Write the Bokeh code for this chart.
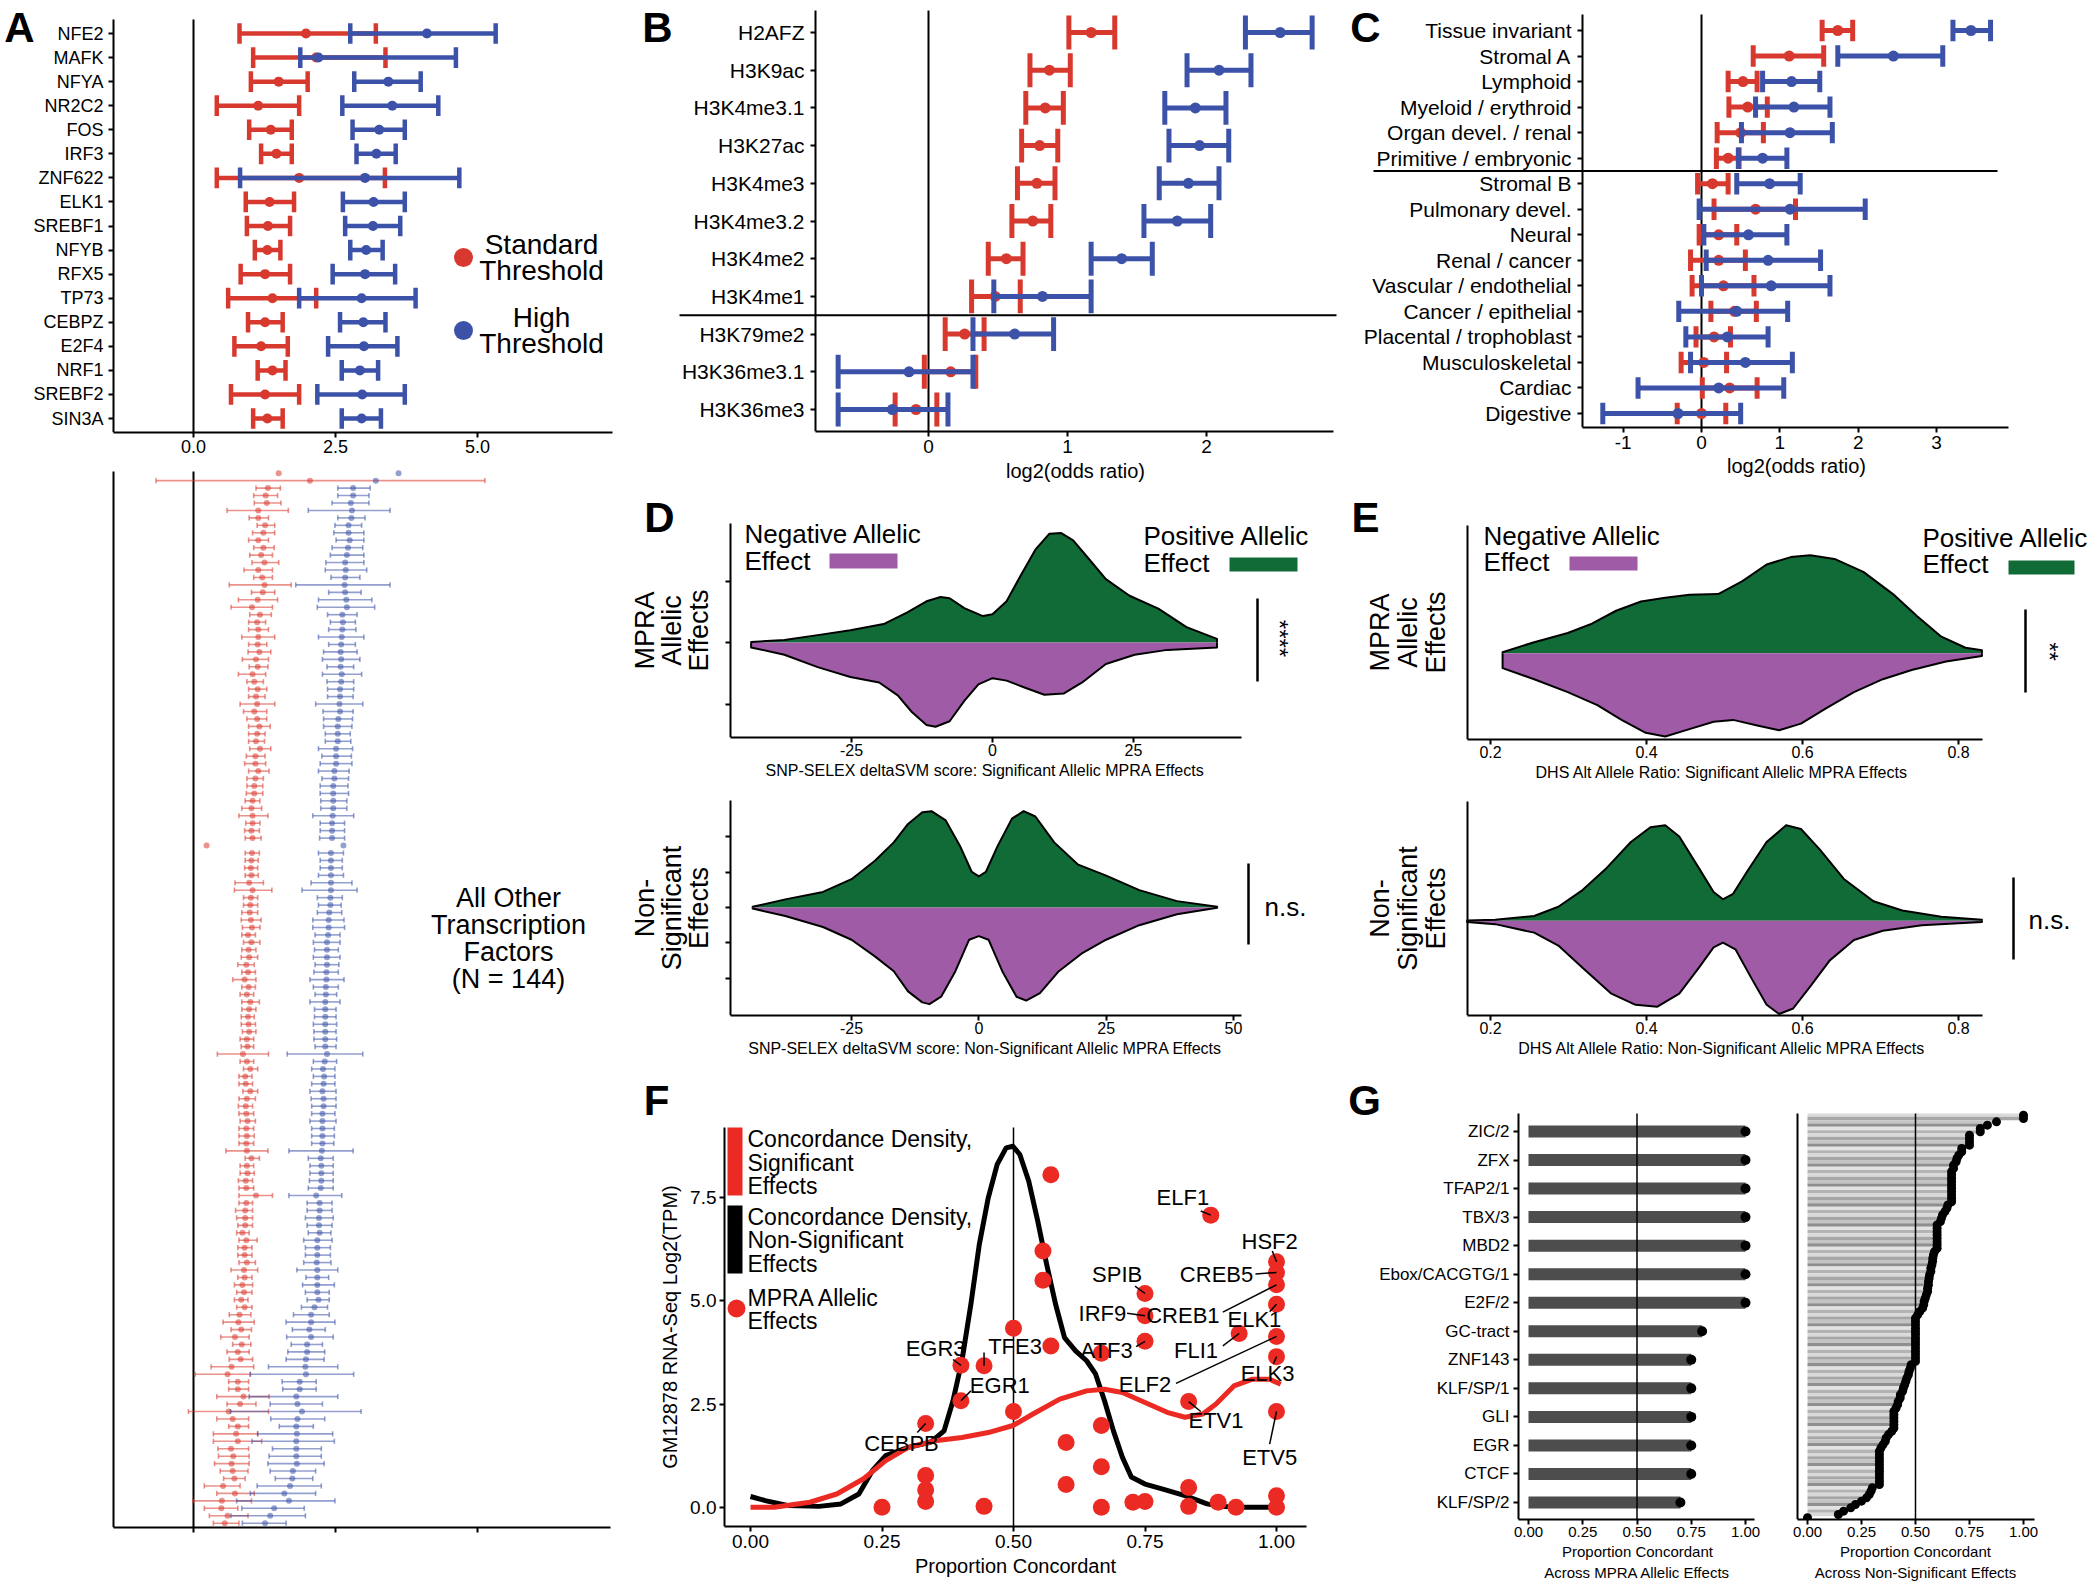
import math
import numpy as np
from bokeh.plotting import figure
from bokeh.layouts import row, column
from bokeh.models import FixedTicker, Label, NumeralTickFormatter, Range1d, LinearAxis
from bokeh.embed import file_html
from bokeh.resources import INLINE
from bokeh.core.properties import value

nan = float("nan")
FONT = "Liberation Sans"
RED = "#D8392E"
BLUE = "#3B52A8"
GREEN = "#116B36"
PURPLE = "#A05BA6"
FRED = "#EC2A24"

# ---------------- Panel A (top) ----------------
A_TFS = ["NFE2", "MAFK", "NFYA", "NR2C2", "FOS", "IRF3", "ZNF622", "ELK1", "SREBF1",
         "NFYB", "RFX5", "TP73", "CEBPZ", "E2F4", "NRF1", "SREBF2", "SIN3A"]
A_STD = [1.98, 2.16, 1.50, 1.14, 1.36, 1.46, 1.86, 1.34, 1.31, 1.30, 1.26, 1.39, 1.26, 1.19, 1.39, 1.26, 1.30]
A_STD_LO = [0.81, 1.05, 1.01, 0.41, 0.98, 1.19, 0.41, 0.92, 0.94, 1.08, 0.83, 0.61, 0.96, 0.72, 1.13, 0.66, 1.05]
A_STD_HI = [3.21, 3.38, 2.01, 1.86, 1.73, 1.73, 3.37, 1.77, 1.70, 1.53, 1.70, 2.16, 1.57, 1.66, 1.62, 1.86, 1.57]
A_HIGH = [4.11, 2.20, 3.43, 3.50, 3.27, 3.22, 3.02, 3.17, 3.16, 3.04, 3.02, 2.96, 2.99, 3.00, 2.93, 2.97, 2.96]
A_HIGH_LO = [2.76, 1.88, 2.83, 2.62, 2.80, 2.87, 0.82, 2.63, 2.67, 2.76, 2.45, 1.86, 2.58, 2.37, 2.61, 2.18, 2.61]
A_HIGH_HI = [5.32, 4.62, 4.00, 4.31, 3.72, 3.56, 4.68, 3.72, 3.64, 3.33, 3.55, 3.91, 3.38, 3.59, 3.25, 3.72, 3.30]
A_XTICKS = [0.0, 2.5, 5.0]

# ---------------- Panel A (bottom): all other TFs, top to bottom ----------------
AO_STD = [1.50, 2.05, 1.31, 1.27, 1.29, 1.14, 1.14, 1.26, 1.23, 1.14, 1.23, 1.19, 1.25, 1.14, 1.21, 1.25, 1.22, 1.13, 1.03, 1.17,
          1.12, 1.14, 1.14, 1.13, 1.16, 1.10, 1.13, 1.04, 1.07, 1.13, 1.10, 1.12, 1.07, 1.12, 1.16, 1.12, 1.10, 1.17, 1.09, 1.09,
          1.14, 1.09, 1.07, 1.07, 1.04, 1.02, 1.04, 1.04, 1.02, 1.04, 0.23, 1.03, 1.02, 1.01, 1.02, 0.98, 1.04, 1.01, 1.00, 0.99,
          1.01, 1.03, 0.96, 1.02, 0.97, 0.98, 0.93, 0.96, 0.90, 0.97, 0.94, 1.00, 0.98, 0.96, 0.97, 0.98, 0.94, 0.95, 0.87, 0.94,
          1.00, 0.91, 0.92, 1.00, 0.94, 0.92, 0.93, 0.95, 0.93, 0.94, 0.93, 0.94, 1.02, 0.94, 0.95, 0.92, 0.93, 1.10, 0.93, 0.91,
          0.91, 0.91, 0.86, 0.93, 0.90, 0.90, 0.94, 0.89, 0.90, 0.86, 0.89, 0.84, 0.90, 0.81, 0.79, 0.84, 0.73, 0.85, 0.78, 0.83,
          0.67, 0.60, 0.78, 0.78, 0.88, 0.82, 0.62, 0.69, 0.78, 0.75, 0.78, 0.66, 0.70, 0.67, 0.69, 0.72, 0.52, 0.73, 0.50, 0.49,
          0.60, 0.55]
AO_STD_LO = [nan, -0.66, 1.10, 1.06, 1.07, 0.59, 0.98, 1.12, 1.04, 0.97, 1.06, 0.99, 1.03, 0.89, 1.06, 0.63, 1.02, 0.79, 0.66, 0.99,
             0.97, 0.97, 0.85, 0.97, 0.96, 0.86, 0.98, 0.79, 0.94, 0.97, 0.97, 0.82, 0.88, 0.94, 0.97, 0.97, 0.97, 0.99, 0.93, 0.90,
             0.97, 0.94, 0.94, 0.93, 0.91, 0.85, 0.80, 0.92, 0.90, 0.91, nan, 0.91, 0.91, 0.90, 0.91, 0.73, 0.72, 0.88, 0.88, 0.85,
             0.84, 0.86, 0.85, 0.88, 0.85, 0.84, 0.78, 0.85, 0.69, 0.85, 0.82, 0.85, 0.85, 0.84, 0.84, 0.86, 0.82, 0.84, 0.42, 0.82,
             0.88, 0.80, 0.80, 0.87, 0.80, 0.79, 0.80, 0.82, 0.80, 0.80, 0.80, 0.57, 0.91, 0.82, 0.82, 0.79, 0.80, 0.80, 0.80, 0.74,
             0.76, 0.78, 0.76, 0.80, 0.78, 0.78, 0.80, 0.66, 0.78, 0.72, 0.76, 0.72, 0.76, 0.63, 0.52, 0.66, 0.48, 0.69, 0.59, 0.63,
             0.31, 0.03, 0.62, 0.62, 0.41, 0.59, -0.09, 0.41, 0.62, 0.35, 0.35, 0.43, 0.44, 0.37, 0.47, 0.53, 0.19, 0.41, -0.01, 0.19,
             0.28, 0.35]
AO_STD_HI = [nan, 5.13, 1.53, 1.48, 1.54, 1.67, 1.32, 1.43, 1.43, 1.32, 1.42, 1.39, 1.50, 1.39, 1.39, 1.72, 1.43, 1.48, 1.39, 1.37,
             1.27, 1.32, 1.43, 1.29, 1.36, 1.32, 1.31, 1.27, 1.23, 1.29, 1.26, 1.43, 1.29, 1.29, 1.35, 1.26, 1.25, 1.36, 1.26, 1.27,
             1.33, 1.23, 1.22, 1.22, 1.17, 1.20, 1.31, 1.17, 1.16, 1.19, nan, 1.16, 1.14, 1.13, 1.14, 1.23, 1.38, 1.13, 1.13, 1.13,
             1.19, 1.17, 1.09, 1.17, 1.10, 1.13, 1.07, 1.09, 1.10, 1.09, 1.06, 1.16, 1.10, 1.07, 1.09, 1.10, 1.06, 1.06, 1.32, 1.06,
             1.13, 1.03, 1.04, 1.13, 1.09, 1.04, 1.06, 1.09, 1.06, 1.07, 1.06, 1.31, 1.16, 1.06, 1.07, 1.04, 1.06, 1.39, 1.04, 1.04,
             1.04, 1.04, 0.98, 1.12, 1.03, 1.03, 1.09, 1.13, 1.03, 1.04, 1.03, 0.96, 1.03, 1.01, 1.07, 1.02, 0.98, 1.01, 0.98, 1.04,
             1.06, 1.00, 0.97, 0.97, 1.33, 1.10, 1.32, 0.97, 0.97, 1.13, 1.20, 0.97, 0.98, 0.98, 0.96, 0.91, 0.82, 1.07, 1.02, 0.78,
             0.96, 0.80]
AO_HIGH = [3.61, 3.21, 2.81, 2.81, 2.77, 2.79, 2.78, 2.73, 2.73, 2.75, 2.72, 2.70, 2.67, 2.68, 2.67, 2.66, 2.67, 2.69, 2.70, 2.62,
           2.63, 2.62, 2.61, 2.60, 2.59, 2.60, 2.59, 2.61, 2.60, 2.58, 2.58, 2.57, 2.58, 2.55, 2.54, 2.54, 2.54, 2.51, 2.51, 2.51,
           2.48, 2.48, 2.46, 2.46, 2.46, 2.46, 2.45, 2.44, 2.44, 2.44, 2.64, 2.42, 2.42, 2.42, 2.42, 2.42, 2.42, 2.41, 2.41, 2.39,
           2.38, 2.38, 2.37, 2.35, 2.35, 2.35, 2.35, 2.34, 2.34, 2.33, 2.33, 2.32, 2.32, 2.32, 2.32, 2.32, 2.32, 2.32, 2.35, 2.31,
           2.28, 2.30, 2.29, 2.27, 2.29, 2.29, 2.27, 2.27, 2.27, 2.27, 2.27, 2.26, 2.24, 2.25, 2.25, 2.25, 2.24, 2.16, 2.22, 2.22,
           2.21, 2.21, 2.22, 2.18, 2.18, 2.18, 2.17, 2.18, 2.18, 2.18, 2.18, 2.20, 2.13, 2.07, 2.07, 2.04, 2.07, 2.00, 2.00, 1.98,
           1.97, 1.98, 1.87, 1.87, 1.81, 1.83, 1.91, 1.83, 1.81, 1.82, 1.81, 1.81, 1.81, 1.82, 1.75, 1.74, 1.70, 1.60, 1.68, 1.42,
           1.35, 1.26]
AO_HIGH_LO = [nan, nan, 2.54, 2.54, 2.44, 2.02, 2.54, 2.49, 2.47, 2.51, 2.44, 2.41, 2.33, 2.32, 2.42, 1.80, 2.38, 2.20, 2.18, 2.36,
              2.41, 2.38, 2.20, 2.38, 2.29, 2.27, 2.35, 2.27, 2.35, 2.36, 2.36, 2.15, 2.28, 2.29, 2.29, 2.32, 2.32, 2.20, 2.26, 2.23,
              2.20, 2.26, 2.23, 2.23, 2.24, 2.24, 2.10, 2.23, 2.23, 2.22, nan, 2.20, 2.23, 2.23, 2.20, 2.07, 1.91, 2.18, 2.20, 2.18,
              2.10, 2.10, 2.14, 2.11, 2.13, 2.11, 2.14, 2.12, 2.05, 2.11, 2.14, 2.05, 2.13, 2.13, 2.11, 2.12, 2.12, 2.14, 1.65, 2.11,
              2.08, 2.11, 2.08, 2.05, 2.07, 2.08, 2.08, 2.05, 2.08, 2.08, 2.08, 1.68, 2.02, 2.05, 2.05, 2.04, 2.02, 1.68, 2.00, 2.00,
              1.97, 2.00, 2.02, 1.94, 1.97, 1.97, 1.94, 1.82, 1.98, 1.92, 1.97, 2.00, 1.90, 1.76, 1.63, 1.74, 1.64, 1.72, 1.66, 1.63,
              1.32, 1.00, 1.56, 1.57, 0.98, 1.35, 0.65, 1.36, 1.51, 1.13, 1.03, 1.39, 1.33, 1.31, 1.35, 1.44, 1.12, 1.00, 0.76, 0.85,
              0.66, 0.86]
AO_HIGH_HI = [nan, nan, 3.11, 3.09, 3.09, 3.46, 3.02, 2.96, 3.00, 3.00, 2.98, 3.00, 3.00, 3.05, 2.93, 3.46, 2.95, 3.14, 3.19, 2.88,
              2.85, 2.86, 3.00, 2.85, 2.88, 2.93, 2.82, 2.96, 2.82, 2.82, 2.81, 2.98, 2.81, 2.80, 2.79, 2.76, 2.77, 2.80, 2.78, 2.79,
              2.74, 2.73, 2.72, 2.73, 2.70, 2.70, 2.82, 2.66, 2.66, 2.66, nan, 2.64, 2.62, 2.62, 2.64, 2.79, 2.88, 2.62, 2.60, 2.61,
              2.65, 2.66, 2.58, 2.58, 2.55, 2.58, 2.56, 2.55, 2.65, 2.55, 2.52, 2.58, 2.51, 2.51, 2.52, 2.51, 2.52, 2.51, 2.98, 2.52,
              2.49, 2.49, 2.49, 2.51, 2.51, 2.51, 2.49, 2.51, 2.48, 2.48, 2.47, 2.81, 2.46, 2.46, 2.46, 2.46, 2.46, 2.61, 2.44, 2.44,
              2.46, 2.44, 2.42, 2.44, 2.41, 2.41, 2.42, 2.54, 2.38, 2.48, 2.39, 2.39, 2.36, 2.39, 2.49, 2.32, 2.46, 2.27, 2.31, 2.30,
              2.54, 2.82, 2.16, 2.16, 2.54, 2.27, 2.95, 2.31, 2.11, 2.45, 2.48, 2.25, 2.25, 2.30, 2.15, 2.10, 2.25, 2.15, 2.49, 1.95,
              1.97, 1.63]

# ---------------- Panel B ----------------
B_MARKS = ["H2AFZ", "H3K9ac", "H3K4me3.1", "H3K27ac", "H3K4me3", "H3K4me3.2", "H3K4me2", "H3K4me1",
           "H3K79me2", "H3K36me3.1", "H3K36me3"]
B_STD = [1.17, 0.87, 0.84, 0.80, 0.78, 0.75, 0.56, 0.48, 0.26, 0.16, -0.09]
B_STD_LO = [1.01, 0.73, 0.70, 0.67, 0.64, 0.60, 0.43, 0.31, 0.12, -0.03, -0.24]
B_STD_HI = [1.34, 1.02, 0.97, 0.93, 0.91, 0.88, 0.68, 0.66, 0.40, 0.34, 0.06]
B_HIGH = [2.53, 2.09, 1.92, 1.95, 1.87, 1.79, 1.39, 0.82, 0.62, -0.14, -0.26]
B_HIGH_LO = [2.28, 1.86, 1.70, 1.73, 1.66, 1.55, 1.17, 0.47, 0.32, -0.65, -0.65]
B_HIGH_HI = [2.76, 2.32, 2.14, 2.16, 2.09, 2.03, 1.61, 1.17, 0.90, 0.32, 0.14]
B_XTICKS = [0, 1, 2]
B_SPLIT = 3.5   # boundary drawn between H3K4me1 and H3K79me2

# ---------------- Panel C ----------------
C_GROUPS = ["Tissue invariant", "Stromal A", "Lymphoid", "Myeloid / erythroid", "Organ devel. / renal",
            "Primitive / embryonic", "Stromal B", "Pulmonary devel.", "Neural", "Renal / cancer",
            "Vascular / endothelial", "Cancer / epithelial", "Placental / trophoblast", "Musculoskeletal",
            "Cardiac", "Digestive"]
C_STD = [1.74, 1.12, 0.53, 0.59, 0.50, 0.34, 0.14, 0.69, 0.22, 0.22, 0.28, 0.42, 0.16, 0.03, 0.36, 0.00]
C_STD_LO = [1.54, 0.66, 0.34, 0.35, 0.20, 0.19, -0.05, 0.16, -0.03, -0.14, -0.12, 0.12, -0.07, -0.26, 0.01, -0.31]
C_STD_HI = [1.93, 1.56, 0.71, 0.84, 0.79, 0.48, 0.34, 1.20, 0.45, 0.56, 0.67, 0.70, 0.37, 0.32, 0.71, 0.31]
C_HIGH = [3.44, 2.45, 1.15, 1.18, 1.13, 0.78, 0.87, 1.13, 0.60, 0.85, 0.89, 0.45, 0.33, 0.56, 0.22, -0.30]
C_HIGH_LO = [3.21, 1.74, 0.78, 0.69, 0.51, 0.47, 0.45, -0.03, 0.03, 0.06, 0.00, -0.29, -0.20, -0.14, -0.81, -1.26]
C_HIGH_HI = [3.69, 3.08, 1.51, 1.64, 1.67, 1.09, 1.26, 2.09, 1.09, 1.52, 1.64, 1.10, 0.85, 1.16, 1.05, 0.50]
C_XTICKS = [-1, 0, 1, 2, 3]
C_SPLIT = 10.5  # boundary between Primitive / embryonic and Stromal B

# ---------------- Panel D (split violins, deltaSVM) ----------------
D_SIG_POS_X = [-42.8, -36.9, -31.0, -25.2, -19.3, -15.1, -11.7, -9.2, -7.6, -5.0, -1.7, 0.0, 2.5, 5.0, 7.6, 10.1,
               12.2, 14.3, 16.8, 20.1, 24.3, 29.4, 34.4, 39.8]
D_SIG_POS_Y = [0.01, 0.04, 0.12, 0.20, 0.30, 0.49, 0.67, 0.74, 0.72, 0.56, 0.43, 0.46, 0.67, 1.09, 1.51, 1.77,
               1.78, 1.66, 1.39, 1.03, 0.76, 0.55, 0.25, 0.06]
D_SIG_NEG_X = [-42.8, -36.9, -31.0, -25.2, -20.1, -16.8, -14.3, -11.7, -10.1, -7.6, -5.0, -2.5, 0.0, 2.5, 5.9,
               9.2, 12.6, 15.9, 20.1, 25.2, 31.0, 39.8]
D_SIG_NEG_Y = [-0.08, -0.20, -0.40, -0.56, -0.65, -0.86, -1.13, -1.34, -1.37, -1.28, -0.95, -0.68, -0.58, -0.62,
               -0.74, -0.85, -0.83, -0.65, -0.35, -0.20, -0.12, -0.08]
D_NS_POS_X = [-44.4, -38.0, -30.6, -25.0, -20.4, -16.7, -13.9, -11.1, -9.3, -6.5, -3.7, -1.4, 0.0, 1.4, 3.7, 6.5,
              8.8, 11.1, 14.8, 19.4, 25.0, 31.5, 38.9, 46.8]
D_NS_POS_Y = [0.02, 0.23, 0.44, 0.80, 1.32, 1.84, 2.36, 2.69, 2.72, 2.46, 1.74, 1.01, 0.88, 1.01, 1.74, 2.51,
              2.72, 2.57, 1.84, 1.22, 0.90, 0.49, 0.18, 0.02]
D_NS_NEG_X = [-44.4, -38.0, -30.6, -25.0, -20.4, -16.7, -13.9, -11.1, -9.7, -7.4, -4.6, -1.9, 0.0, 1.9, 4.6, 7.4,
              9.3, 12.0, 15.7, 20.4, 25.0, 31.5, 38.9, 46.8]
D_NS_NEG_Y = [-0.03, -0.24, -0.55, -0.91, -1.38, -1.80, -2.37, -2.68, -2.73, -2.52, -1.80, -0.91, -0.81, -0.91,
              -1.80, -2.52, -2.63, -2.42, -1.80, -1.28, -0.91, -0.50, -0.19, -0.01]
D_SIG_XTICKS = [-25, 0, 25]
D_NS_XTICKS = [-25, 0, 25, 50]

# ---------------- Panel E (split violins, DHS allele ratio) ----------------
E_SIG_POS_X = [0.2155, 0.256, 0.299, 0.330, 0.361, 0.393, 0.424, 0.455, 0.492, 0.523, 0.554, 0.585, 0.610, 0.641,
               0.678, 0.716, 0.747, 0.778, 0.809, 0.830]
E_SIG_POS_Y = [0.03, 0.30, 0.55, 0.80, 1.15, 1.40, 1.50, 1.58, 1.60, 1.95, 2.40, 2.60, 2.65, 2.55, 2.20, 1.60,
               1.00, 0.45, 0.15, 0.08]
E_SIG_NEG_X = [0.2155, 0.256, 0.299, 0.337, 0.368, 0.399, 0.424, 0.455, 0.486, 0.511, 0.542, 0.570, 0.598, 0.629,
               0.666, 0.703, 0.740, 0.784, 0.830]
E_SIG_NEG_Y = [-0.40, -0.70, -1.05, -1.40, -1.80, -2.15, -2.25, -2.05, -1.85, -1.80, -1.95, -2.08, -1.90, -1.50,
               -1.05, -0.70, -0.45, -0.22, -0.07]
E_NS_POS_X = [0.170, 0.206, 0.256, 0.287, 0.318, 0.349, 0.380, 0.405, 0.424, 0.442, 0.467, 0.486, 0.498, 0.511,
              0.529, 0.554, 0.579, 0.598, 0.622, 0.653, 0.691, 0.728, 0.778, 0.830]
E_NS_POS_Y = [0.01, 0.03, 0.13, 0.38, 0.83, 1.43, 2.13, 2.53, 2.58, 2.28, 1.43, 0.78, 0.58, 0.73, 1.33, 2.13,
              2.58, 2.48, 1.93, 1.13, 0.53, 0.28, 0.11, 0.03]
E_NS_NEG_X = [0.170, 0.206, 0.256, 0.287, 0.318, 0.355, 0.386, 0.414, 0.442, 0.467, 0.486, 0.498, 0.514, 0.535,
              0.554, 0.570, 0.588, 0.610, 0.635, 0.666, 0.703, 0.753, 0.830]
E_NS_NEG_Y = [-0.03, -0.09, -0.32, -0.67, -1.27, -1.97, -2.27, -2.32, -1.97, -1.27, -0.72, -0.59, -0.77, -1.57,
              -2.27, -2.52, -2.37, -1.77, -1.07, -0.52, -0.27, -0.12, -0.03]
E_XTICKS = [0.2, 0.4, 0.6, 0.8]

# ---------------- Panel F ----------------
F_BLACK_X = [0, 0.028, 0.070, 0.130, 0.172, 0.206, 0.232, 0.257, 0.300, 0.342, 0.368, 0.385, 0.402, 0.419, 0.435,
             0.452, 0.469, 0.486, 0.499, 0.512, 0.529, 0.546, 0.563, 0.580, 0.597, 0.618, 0.639, 0.656, 0.673,
             0.690, 0.707, 0.724, 0.750, 0.784, 0.826, 0.868, 0.894, 0.928, 1.0]
F_BLACK_Y = [0.26, 0.16, 0.04, 0.02, 0.08, 0.32, 0.89, 1.25, 1.45, 1.57, 1.85, 2.58, 3.55, 4.92, 6.37, 7.50, 8.31,
             8.71, 8.75, 8.55, 7.90, 6.94, 5.89, 4.92, 4.11, 3.79, 3.55, 3.23, 2.58, 1.85, 1.21, 0.73, 0.56, 0.44,
             0.28, 0.08, 0.02, 0.0, 0.0]
F_RED_X = [0, 0.045, 0.113, 0.164, 0.215, 0.257, 0.300, 0.351, 0.402, 0.452, 0.499, 0.537, 0.588, 0.639, 0.673,
           0.707, 0.750, 0.792, 0.826, 0.860, 0.885, 0.919, 0.953, 0.987, 1.008]
F_RED_Y = [0, 0, 0.12, 0.32, 0.69, 1.13, 1.45, 1.61, 1.69, 1.81, 1.98, 2.26, 2.62, 2.82, 2.86, 2.78, 2.54, 2.30,
           2.18, 2.26, 2.50, 2.94, 3.10, 3.10, 2.98]
F_X = [0.25, 0.333, 0.333, 0.333, 0.333, 0.40, 0.40, 0.444, 0.444, 0.50, 0.50, 0.556, 0.556, 0.571, 0.571, 0.60,
       0.60, 0.667, 0.667, 0.667, 0.667, 0.727, 0.75, 0.75, 0.75, 0.75, 0.833, 0.833, 0.833, 0.875, 0.889, 0.923,
       0.929, 1.0, 1.0, 1.0, 1.0, 1.0, 1.0, 1.0, 1.0, 1.0]
F_Y = [0.0, 2.03, 0.77, 0.42, 0.14, 3.44, 2.58, 3.43, 0.02, 4.34, 2.32, 6.21, 5.50, 8.06, 3.91, 1.57, 0.55, 3.73,
       1.98, 0.98, 0.0, 0.12, 5.18, 4.64, 4.02, 0.14, 2.56, 0.48, 0.02, 7.08, 0.12, 0.0, 4.21, 5.95, 5.69, 5.39,
       4.92, 4.14, 3.65, 2.32, 0.28, 0.0]
F_LABELS = ["CEBPB", "EGR3", "EGR1", "TFE3", "ATF3", "SPIB", "IRF9", "ETV1", "ELF1", "FLI1", "HSF2", "CREB5",
            "CREB1", "ELK1", "ELF2", "ELK3", "ETV5"]
F_LABEL_POINT = [1, 5, 6, 7, 24, 22, 23, 26, 29, 32, 33, 34, 35, 36, 37, 38, 39]
F_XTICKS = [0.0, 0.25, 0.5, 0.75, 1.0]
F_YTICKS = [0.0, 2.5, 5.0, 7.5]

# ---------------- Panel G ----------------
G_MOTIFS = ["ZIC/2", "ZFX", "TFAP2/1", "TBX/3", "MBD2", "Ebox/CACGTG/1", "E2F/2", "GC-tract", "ZNF143",
            "KLF/SP/1", "GLI", "EGR", "CTCF", "KLF/SP/2"]
G_SIG = [1.0, 1.0, 1.0, 1.0, 1.0, 1.0, 1.0, 0.80, 0.75, 0.75, 0.75, 0.75, 0.75, 0.70]
G_NS = [1.0, 1.0, 0.875, 0.833, 0.8, 0.8, 0.75, 0.75, 0.75, 0.75, 0.714, 0.714, 0.7, 0.692, 0.688, 0.676, 0.676,
        0.667, 0.667, 0.667, 0.667, 0.667, 0.667, 0.667, 0.667, 0.667, 0.667,
        0.65, 0.645, 0.636, 0.625, 0.62, 0.615,
        0.6, 0.6, 0.6, 0.6, 0.6, 0.6, 0.6, 0.6,
        0.588, 0.583, 0.58, 0.579, 0.576, 0.571, 0.571,
        0.565, 0.563, 0.56, 0.56, 0.556, 0.556, 0.55,
        0.545, 0.54, 0.538, 0.533, 0.52, 0.51,
        0.5, 0.5, 0.5, 0.5, 0.5, 0.5, 0.5, 0.5, 0.5, 0.5, 0.5, 0.5, 0.5, 0.5,
        0.48, 0.476, 0.47, 0.467, 0.46, 0.455, 0.45, 0.444, 0.44, 0.43, 0.429, 0.42, 0.417, 0.41,
        0.4, 0.4, 0.4, 0.4, 0.4, 0.4,
        0.39, 0.375, 0.364, 0.36, 0.35, 0.34,
        0.333, 0.333, 0.333, 0.333, 0.333, 0.333, 0.333, 0.333, 0.333, 0.333, 0.333,
        0.3, 0.294, 0.286, 0.273, 0.25, 0.222, 0.2, 0.167, 0.143, 0.0]
G_XTICKS = [0.0, 0.25, 0.5, 0.75, 1.0]


# ======================= helpers =======================
class Panel:
    """A figure whose frame covers its whole width; the y axis is pinned inside it."""

    def __init__(self, x0, x1, y0, yax, y1, xa, ya, xbounds_px, ytop_px):
        self.xa = xa
        self.ya = ya
        self.yax = yax
        xr = (self.xd(x0), self.xd(x1))
        yr = (self.yd(yax), self.yd(y0))
        p = figure(width=x1 - x0, height=y1 - y0, x_range=Range1d(*xr), y_range=Range1d(*yr),
                   min_border_left=0, min_border_right=0, min_border_top=0, min_border_bottom=y1 - yax,
                   output_backend="svg", toolbar_location=None, tools="")
        p.outline_line_color = None
        p.xgrid.visible = False
        p.ygrid.visible = False
        p.background_fill_color = "white"
        p.border_fill_color = "white"
        for ax in p.axis:
            ax.axis_line_width = 2
            ax.axis_line_color = "black"
            ax.major_tick_line_width = 2
            ax.major_tick_line_color = "black"
            ax.major_tick_out = 5
            ax.major_tick_in = 0
            ax.minor_tick_line_color = None
            ax.major_label_text_font = FONT
            ax.major_label_text_color = "black"
            ax.axis_label_text_font = FONT
            ax.axis_label_text_font_style = "normal"
            ax.axis_label_text_color = "black"
        self.xbounds = (self.xd(xbounds_px[0]), self.xd(xbounds_px[1]))
        self.ybounds = (self.yd(yax), self.yd(ytop_px))
        p.xaxis[0].bounds = self.xbounds
        p.yaxis[0].fixed_location = self.xbounds[0]
        p.yaxis[0].bounds = self.ybounds
        self.p = p

    def xd(self, px):
        pa, da, pb, db = self.xa
        return da + (px - pa) * (db - da) / (pb - pa)

    def yd(self, py):
        pa, da, pb, db = self.ya
        return da + (py - pa) * (db - da) / (pb - pa)

    def label(self, xp, yp, text, size, align="left", angle=0.0, bold=False, color="black"):
        self.p.add_layout(Label(x=self.xd(xp), y=self.yd(yp), text=text, text_font=FONT,
                                text_font_size=f"{size}px", text_align=align, text_baseline="middle",
                                angle=angle, text_color=color,
                                text_font_style="bold" if bold else "normal"))

    def seg_px(self, x0p, y0p, x1p, y1p, width=2.0):
        self.p.segment(x0=[self.xd(x0p)], y0=[self.yd(y0p)], x1=[self.xd(x1p)], y1=[self.yd(y1p)],
                       line_color="black", line_width=width)

    def box_px(self, x0p, x1p, y0p, y1p, color):
        self.p.quad(left=[self.xd(x0p)], right=[self.xd(x1p)], bottom=[self.yd(y1p)], top=[self.yd(y0p)],
                    fill_color=color, line_color=None)

    def vline(self, x, width=2.0):
        self.p.segment(x0=[x], y0=[self.ybounds[0]], x1=[x], y1=[self.ybounds[1]], line_color="black",
                       line_width=width)

    def xtitle(self, lines, xc_px, size, standoffs):
        """x axis title, one line per extra (line-less) axis, centred at xc_px."""
        xv = self.xd(xc_px)
        for text, so in zip(lines, standoffs):
            ax = LinearAxis(ticker=FixedTicker(ticks=[xv]), major_label_overrides={xv: text},
                            axis_line_color=None, major_tick_line_color=None, minor_tick_line_color=None,
                            major_tick_out=0, major_tick_in=0, minor_tick_out=0, major_label_standoff=so,
                            major_label_text_font=FONT, major_label_text_font_size=f"{size}px",
                            major_label_text_color="black")
            self.p.add_layout(ax, "below")


def xaxis(pn, ticks, fmt, size, standoff=3, label=None, label_size=20, label_standoff=5):
    ax = pn.p.xaxis[0]
    ax.ticker = FixedTicker(ticks=ticks)
    if fmt is None:
        ax.major_label_overrides = {t: "" for t in ticks}
        ax.major_label_text_font_size = "1px"
    else:
        ax.formatter = NumeralTickFormatter(format=fmt)
        ax.major_label_text_font_size = f"{size}px"
    ax.major_label_standoff = standoff
    if label:
        ax.axis_label = label
        ax.axis_label_text_font_size = f"{label_size}px"
        ax.axis_label_standoff = label_standoff


def ycats(pn, names, size, standoff=5):
    n = len(names)
    ax = pn.p.yaxis[0]
    ax.ticker = FixedTicker(ticks=list(range(1, n + 1)))
    ax.major_label_overrides = {n - i: nm for i, nm in enumerate(names)}
    ax.major_label_text_font_size = f"{size}px"
    ax.major_label_standoff = standoff


def yplain(pn, ticks=(), label=None, label_size=27, label_standoff=10, line_height=0.9):
    ax = pn.p.yaxis[0]
    ax.ticker = FixedTicker(ticks=list(ticks))
    ax.major_label_overrides = {t: "" for t in ticks}
    ax.major_label_text_font_size = "1px"
    ax.major_label_standoff = 0
    if not ticks:
        ax.major_tick_out = 0
    if label:
        ax.axis_label = label
        ax.axis_label_text_font_size = f"{label_size}px"
        ax.axis_label_standoff = label_standoff
        ax.axis_label_text_line_height = line_height


def errorbars(pn, c, lo, hi, color, lw, cap, size, alpha=1.0):
    p = pn.p
    c = np.asarray(c, float)
    lo = np.asarray(lo, float)
    hi = np.asarray(hi, float)
    y = np.arange(len(c), 0, -1).astype(float)
    p.segment(x0=lo, y0=y, x1=hi, y1=y, line_color=color, line_width=lw, line_alpha=alpha)
    p.segment(x0=lo, y0=y - cap, x1=lo, y1=y + cap, line_color=color, line_width=lw, line_alpha=alpha)
    p.segment(x0=hi, y0=y - cap, x1=hi, y1=y + cap, line_color=color, line_width=lw, line_alpha=alpha)
    p.scatter(x=c, y=y, size=size, marker="circle", fill_color=color, line_color=None, fill_alpha=alpha)


def violin(pn, px_, py_, nx_, ny_):
    p = pn.p
    p.varea(x=px_, y1=[0] * len(px_), y2=py_, fill_color=GREEN)
    p.varea(x=nx_, y1=ny_, y2=[0] * len(nx_), fill_color=PURPLE)
    p.line(x=[px_[0]] + list(px_) + [px_[-1]], y=[0] + list(py_) + [0], line_color="black", line_width=2,
           line_join="round")
    p.line(x=[nx_[0]] + list(nx_) + [nx_[-1]], y=[0] + list(ny_) + [0], line_color="black", line_width=2,
           line_join="round")


# ======================= Panel A top =======================
pA = Panel(0, 625, 0, 432, 462, (193, 0.0, 477, 5.0), (33, 17, 418, 1), (113, 612), 19)
ycats(pA, A_TFS, 18, 5)
xaxis(pA, A_XTICKS, "0.0", 18, 2)
pA.vline(0)
errorbars(pA, A_STD, A_STD_LO, A_STD_HI, RED, 4.5, 0.43, 10)
errorbars(pA, A_HIGH, A_HIGH_LO, A_HIGH_HI, BLUE, 4.5, 0.43, 10)
for (cy, col) in [(257, RED), (330, BLUE)]:
    pA.p.scatter(x=[pA.xd(463)], y=[pA.yd(cy)], size=19, marker="circle", fill_color=col, line_color=None)
pA.label(541, 244, "Standard", 28, "center")
pA.label(541, 270, "Threshold", 28, "center")
pA.label(541, 317, "High", 28, "center")
pA.label(541, 343, "Threshold", 28, "center")
pA.label(19, 27, "A", 42, "center", bold=True)

# ======================= Panel A bottom =======================
nAO = len(AO_STD)
pAb = Panel(0, 625, 462, 1527, 1584, (193, 0.0, 477, 5.0), (472.7, nAO, 1522.7, 1), (113, 610), 471)
yplain(pAb)
xaxis(pAb, A_XTICKS, None, 6, 0)
pAb.vline(0)
errorbars(pAb, AO_STD, AO_STD_LO, AO_STD_HI, RED, 1.6, 0.35, 6, alpha=0.55)
errorbars(pAb, AO_HIGH, AO_HIGH_LO, AO_HIGH_HI, BLUE, 1.6, 0.35, 6, alpha=0.55)
for i, t in enumerate(["All Other", "Transcription", "Factors", "(N = 144)"]):
    pAb.label(508, 897 + 27.3 * i, t, 27, "center")

# ======================= Panel B =======================
pB = Panel(625, 1345, 0, 431, 490, (928, 0, 1206, 2), (32, 11, 409, 1), (815, 1333), 10)
ycats(pB, B_MARKS, 21, 6)
xaxis(pB, B_XTICKS, "0", 19, 3)
pB.xtitle(["log2(odds ratio)"], 1075, 20, [4])
pB.vline(0)
errorbars(pB, B_STD, B_STD_LO, B_STD_HI, RED, 5, 0.45, 11)
errorbars(pB, B_HIGH, B_HIGH_LO, B_HIGH_HI, BLUE, 5, 0.45, 11)
pB.p.segment(x0=[pB.xd(679)], y0=[B_SPLIT], x1=[pB.xd(1336)], y1=[B_SPLIT], line_color="black", line_width=2)
pB.label(657, 27, "B", 42, "center", bold=True)

# ======================= Panel D =======================
pDt = Panel(625, 1345, 490, 737, 790, (851, -25, 1133, 25), (642, 0, 580.5, 1), (730, 1241), 523)
yplain(pDt, [-1, 0, 1], "MPRA\nAllelic\nEffects", 27, 12, 0.9)
xaxis(pDt, D_SIG_XTICKS, "0", 16, 1, "SNP-SELEX deltaSVM score: Significant Allelic MPRA Effects", 16, 3)
violin(pDt, D_SIG_POS_X, D_SIG_POS_Y, D_SIG_NEG_X, D_SIG_NEG_Y)
pDt.label(744, 533, "Negative Allelic", 26)
pDt.label(744, 560, "Effect", 26)
pDt.label(1143, 535, "Positive Allelic", 26)
pDt.label(1143, 562, "Effect", 26)
pDt.box_px(829, 897, 553, 568, PURPLE)
pDt.box_px(1229, 1297, 557, 571, GREEN)
pDt.seg_px(1257, 598, 1257, 681, 2.5)
pDt.label(1279, 638, "****", 24, "center", angle=-math.pi / 2)
pDt.label(659, 517, "D", 42, "center", bold=True)

pDb = Panel(625, 1345, 790, 1015, 1068, (851, -25, 1233, 50), (907, 0, 871.6, 1), (730, 1241), 800)
yplain(pDb, [-2, -1, 0, 1, 2], "Non-\nSignificant\nEffects", 27, 12, 0.9)
xaxis(pDb, D_NS_XTICKS, "0", 16, 1, "SNP-SELEX deltaSVM score: Non-Significant Allelic MPRA Effects", 16, 3)
violin(pDb, D_NS_POS_X, D_NS_POS_Y, D_NS_NEG_X, D_NS_NEG_Y)
pDb.seg_px(1248, 863, 1248, 944, 2.5)
pDb.label(1264, 906, "n.s.", 26)

# ======================= Panel F =======================
pF = Panel(625, 1345, 1068, 1526, 1584, (750, 0, 1276, 1), (1506.7, 0, 1197.3, 7.5), (724, 1306), 1127)
xaxis(pF, F_XTICKS, "0.00", 19, 3)
pF.xtitle(["Proportion Concordant"], 1015, 20, [4])
yF = pF.p.yaxis[0]
yF.ticker = FixedTicker(ticks=F_YTICKS)
yF.formatter = NumeralTickFormatter(format="0.0")
yF.major_label_text_font_size = "19px"
yF.major_label_standoff = 3
yF.axis_label = "GM12878 RNA-Seq Log2(TPM)"
yF.axis_label_text_font_size = "20px"
yF.axis_label_standoff = 6
pF.vline(0.5, 1.5)
pF.p.line(F_BLACK_X, F_BLACK_Y, line_color="black", line_width=5, line_join="round")
pF.p.line(F_RED_X, F_RED_Y, line_color=FRED, line_width=5, line_join="round")
pF.p.scatter(F_X, F_Y, size=17, marker="circle", fill_color=FRED, line_color=None)
# repelled label placement: (text x, text y, leader start x, leader start y) in data units
F_LABEL_LAYOUT = [(0.287, 1.55, 0.317, 1.81), (0.352, 3.85, 0.385, 3.58), (0.474, 2.94, 0.419, 2.82),
                  (0.503, 3.89, 0.444, 3.75), (0.677, 3.81, 0.733, 3.89), (0.697, 5.63, 0.731, 5.36),
                  (0.669, 4.70, 0.716, 4.70), (0.885, 2.10, 0.856, 2.32), (0.822, 7.50, 0.856, 7.18),
                  (0.847, 3.79, 0.898, 3.91), (0.987, 6.45, 0.992, 6.21), (0.886, 5.63, 0.960, 5.65),
                  (0.822, 4.65, 0.898, 4.73), (0.958, 4.56, 0.987, 4.74), (0.750, 2.97, 0.809, 3.00),
                  (0.983, 3.23, 0.994, 3.47), (0.987, 1.21, 0.987, 1.53)]
pF.p.segment(x0=[l[2] for l in F_LABEL_LAYOUT], y0=[l[3] for l in F_LABEL_LAYOUT],
             x1=[F_X[i] for i in F_LABEL_POINT], y1=[F_Y[i] for i in F_LABEL_POINT],
             line_color="black", line_width=1.5)
pF.p.text(x=[l[0] for l in F_LABEL_LAYOUT], y=[l[1] for l in F_LABEL_LAYOUT], text=F_LABELS,
          text_font=value(FONT), text_font_size=value("22px"), text_align="center",
          text_baseline="middle", text_color="black")
pF.box_px(727, 742, 1127, 1195, FRED)
pF.box_px(727, 742, 1205, 1273, "black")
pF.p.scatter(x=[pF.xd(736)], y=[pF.yd(1308)], size=18, marker="circle", fill_color=FRED, line_color=None)
for yp, t in [(1138, "Concordance Density,"), (1162, "Significant"), (1185, "Effects"),
              (1216, "Concordance Density,"), (1239, "Non-Significant"), (1263, "Effects"),
              (1297, "MPRA Allelic"), (1320, "Effects")]:
    pF.label(747, yp, t, 23)
pF.label(656, 1100, "F", 42, "center", bold=True)

# ======================= Panel C =======================
pC = Panel(1345, 2100, 0, 427, 490, (1701, 0, 1936, 3), (30, 16, 413, 1), (1582, 2008), 14)
ycats(pC, C_GROUPS, 21, 6)
xaxis(pC, C_XTICKS, "0", 19, 3)
pC.xtitle(["log2(odds ratio)"], 1796, 20, [3])
pC.vline(0)
errorbars(pC, C_STD, C_STD_LO, C_STD_HI, RED, 5, 0.42, 11)
errorbars(pC, C_HIGH, C_HIGH_LO, C_HIGH_HI, BLUE, 5, 0.42, 11)
pC.p.segment(x0=[pC.xd(1373)], y0=[C_SPLIT], x1=[pC.xd(1997)], y1=[C_SPLIT], line_color="black", line_width=2)
pC.label(1365, 27, "C", 42, "center", bold=True)

# ======================= Panel E =======================
pEt = Panel(1345, 2100, 490, 739, 790, (1490, 0.2, 1958, 0.8), (652.8, 0, 615.8, 1), (1467, 1982), 525)
yplain(pEt, (), "MPRA\nAllelic\nEffects", 27, 17, 0.92)
xaxis(pEt, E_XTICKS, "0.0", 16, 1, "DHS Alt Allele Ratio: Significant Allelic MPRA Effects", 16, 3)
violin(pEt, E_SIG_POS_X, E_SIG_POS_Y, E_SIG_NEG_X, E_SIG_NEG_Y)
pEt.label(1483, 535, "Negative Allelic", 26)
pEt.label(1483, 561, "Effect", 26)
pEt.label(1922, 537, "Positive Allelic", 26)
pEt.label(1922, 563, "Effect", 26)
pEt.box_px(1569, 1637, 556, 570, PURPLE)
pEt.box_px(2008, 2074, 560, 574, GREEN)
pEt.seg_px(2025, 609, 2025, 692, 2.5)
pEt.label(2049, 651, "**", 24, "center", angle=-math.pi / 2)
pEt.label(1365, 517, "E", 42, "center", bold=True)

pEb = Panel(1345, 2100, 790, 1015, 1068, (1490, 0.2, 1958, 0.8), (920.3, 0, 883.3, 1), (1467, 1982), 801)
yplain(pEb, (), "Non-\nSignificant\nEffects", 27, 17, 0.92)
xaxis(pEb, E_XTICKS, "0.0", 16, 1, "DHS Alt Allele Ratio: Non-Significant Allelic MPRA Effects", 16, 3)
violin(pEb, E_NS_POS_X, E_NS_POS_Y, E_NS_NEG_X, E_NS_NEG_Y)
pEb.seg_px(2013, 877, 2013, 959, 2.5)
pEb.label(2028, 919, "n.s.", 26)

# ======================= Panel G =======================
pGl = Panel(1345, 1780, 1068, 1519, 1584, (1528, 0, 1745, 1), (1131, 14, 1502, 1), (1518, 1754), 1113)
ycats(pGl, G_MOTIFS, 17, 4)
xaxis(pGl, G_XTICKS, "0.00", 15, 2)
pGl.xtitle(["Proportion Concordant", "Across MPRA Allelic Effects"], 1637, 15, [3, 1])
ng = len(G_SIG)
yg = list(range(ng, 0, -1))
pGl.p.hbar(y=yg, left=0, right=G_SIG, height=0.42, fill_color="#4D4D4D", line_color=None)
pGl.vline(0.5, 1.5)
pGl.p.scatter(x=G_SIG, y=yg, size=10, marker="circle", fill_color="black", line_color=None)
pGl.label(1364, 1100, "G", 42, "center", bold=True)

nn = len(G_NS)
pGr = Panel(1780, 2100, 1068, 1519, 1584, (1807, 0, 2023, 1), (1114.7, nn, 1517.3, 1), (1797, 2034), 1113)
yplain(pGr)
xaxis(pGr, G_XTICKS, "0.00", 15, 2)
pGr.xtitle(["Proportion Concordant", "Across Non-Significant Effects"], 1915, 15, [3, 1])
grays = ["#D9D9D9", "#A6A6A6", "#C4C4C4", "#8F8F8F", "#E3E3E3", "#B3B3B3"]
ynr = list(range(nn, 0, -1))
pGr.p.hbar(y=ynr, left=0, right=G_NS, height=1.0, fill_color=[grays[i % len(grays)] for i in range(nn)],
           line_color=None)
pGr.vline(0.5, 1.5)
pGr.p.scatter(x=G_NS, y=ynr, size=9, marker="circle", fill_color="black", line_color=None)

# ======================= layout =======================
colA = column(pA.p, pAb.p)
colB = column(pB.p, pDt.p, pDb.p, pF.p)
colC = column(pC.p, pEt.p, pEb.p, row(pGl.p, pGr.p))
page = row(colA, colB, colC)

with open("out.html", "w") as f:
    f.write(file_html(page, INLINE, title="MPRA figure"))
